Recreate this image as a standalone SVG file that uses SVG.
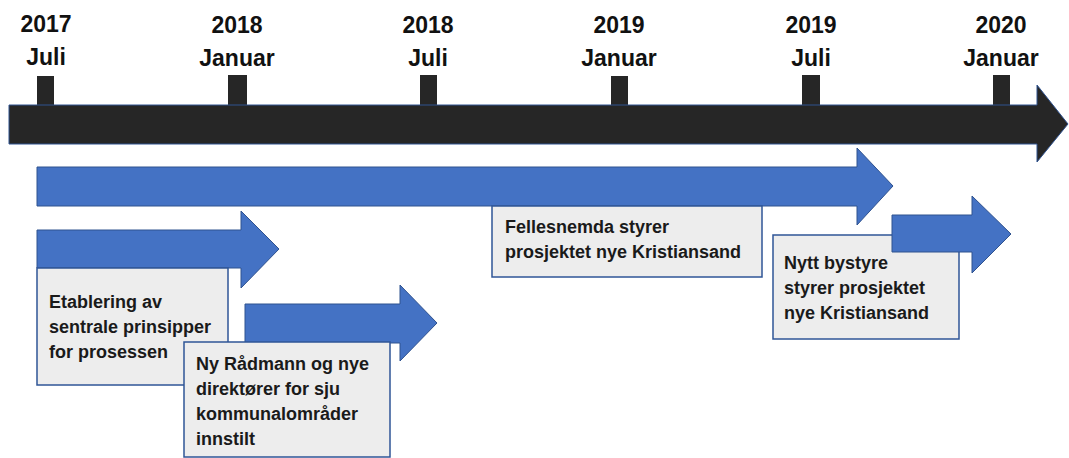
<svg xmlns="http://www.w3.org/2000/svg" width="1069" height="458" viewBox="0 0 1069 458">
  <style>
    .date { font-family: "Liberation Sans", Arial, sans-serif; font-weight: bold; font-size: 23px; fill: #111; text-anchor: middle; }
    .note { font-family: "Liberation Sans", Arial, sans-serif; font-weight: bold; font-size: 18px; fill: #1a1a1a; }
    .tick { fill: #262626; }
    .bar { fill: #262626; stroke: #2F528F; stroke-width: 1; }
    .phase { fill: #4472C4; stroke: #2F528F; stroke-width: 1; }
    .box { fill: #EDEDED; stroke: #2F5597; stroke-width: 1.5; }
  </style>

  <rect width="1069" height="458" fill="#ffffff"/>

  <!-- timeline axis with month ticks -->
  <g id="timeline">
    <rect class="tick" x="37" y="76" width="17" height="30"/>
    <rect class="tick" x="228" y="75" width="19" height="31"/>
    <rect class="tick" x="420" y="75" width="17" height="31"/>
    <rect class="tick" x="611" y="76" width="17" height="30"/>
    <rect class="tick" x="802" y="75" width="18" height="31"/>
    <rect class="tick" x="993" y="75" width="17" height="31"/>
    <polygon class="bar" points="9,105 1037,105 1037,85 1068,124 1037,162 1037,144 9,144"/>
  </g>

  <g id="labels">
    <text class="date" x="46" y="32">2017</text>
    <text class="date" x="46" y="65">Juli</text>
    <text class="date" x="237" y="33">2018</text>
    <text class="date" x="237" y="66">Januar</text>
    <text class="date" x="428" y="33">2018</text>
    <text class="date" x="428" y="66">Juli</text>
    <text class="date" x="619" y="33">2019</text>
    <text class="date" x="619" y="66">Januar</text>
    <text class="date" x="811" y="33">2019</text>
    <text class="date" x="811" y="66">Juli</text>
    <text class="date" x="1001" y="33">2020</text>
    <text class="date" x="1001" y="66">Januar</text>
  </g>

  <!-- phase: joint committee -->
  <g id="phase-fellesnemda">
    <polygon class="phase" points="37,167 857,167 857,148 893,186 857,225 857,206 37,206"/>
    <rect class="box" x="492" y="206" width="270" height="71"/>
    <text class="note" x="505" y="233">Fellesnemda styrer</text>
    <text class="note" x="505" y="258">prosjektet nye Kristiansand</text>
  </g>

  <!-- phase: principles -->
  <g id="phase-prinsipper">
    <polygon class="phase" points="37,230 241,230 241,211 279,249 241,288 241,268 37,268"/>
    <rect class="box" x="37" y="268" width="191" height="117"/>
    <text class="note" x="49" y="308">Etablering av</text>
    <text class="note" x="49" y="333">sentrale prinsipper</text>
    <text class="note" x="49" y="358">for prosessen</text>
  </g>

  <!-- phase: new chief executive and directors -->
  <g id="phase-radmann">
    <polygon class="phase" points="245,304 400,304 400,285 437,323 400,361 400,343 245,343"/>
    <rect class="box" x="184" y="342" width="206" height="115"/>
    <text class="note" x="196" y="370">Ny Rådmann og nye</text>
    <text class="note" x="196" y="395">direktører for sju</text>
    <text class="note" x="196" y="420">kommunalområder</text>
    <text class="note" x="196" y="445">innstilt</text>
  </g>

  <!-- phase: new city council -->
  <g id="phase-bystyre">
    <rect class="box" x="773" y="235" width="186" height="104"/>
    <text class="note" x="784" y="269">Nytt bystyre</text>
    <text class="note" x="784" y="294">styrer prosjektet</text>
    <text class="note" x="784" y="319">nye Kristiansand</text>
    <polygon class="phase" points="892,215 972,215 972,196 1011,234 972,273 972,252 892,252"/>
  </g>
</svg>
